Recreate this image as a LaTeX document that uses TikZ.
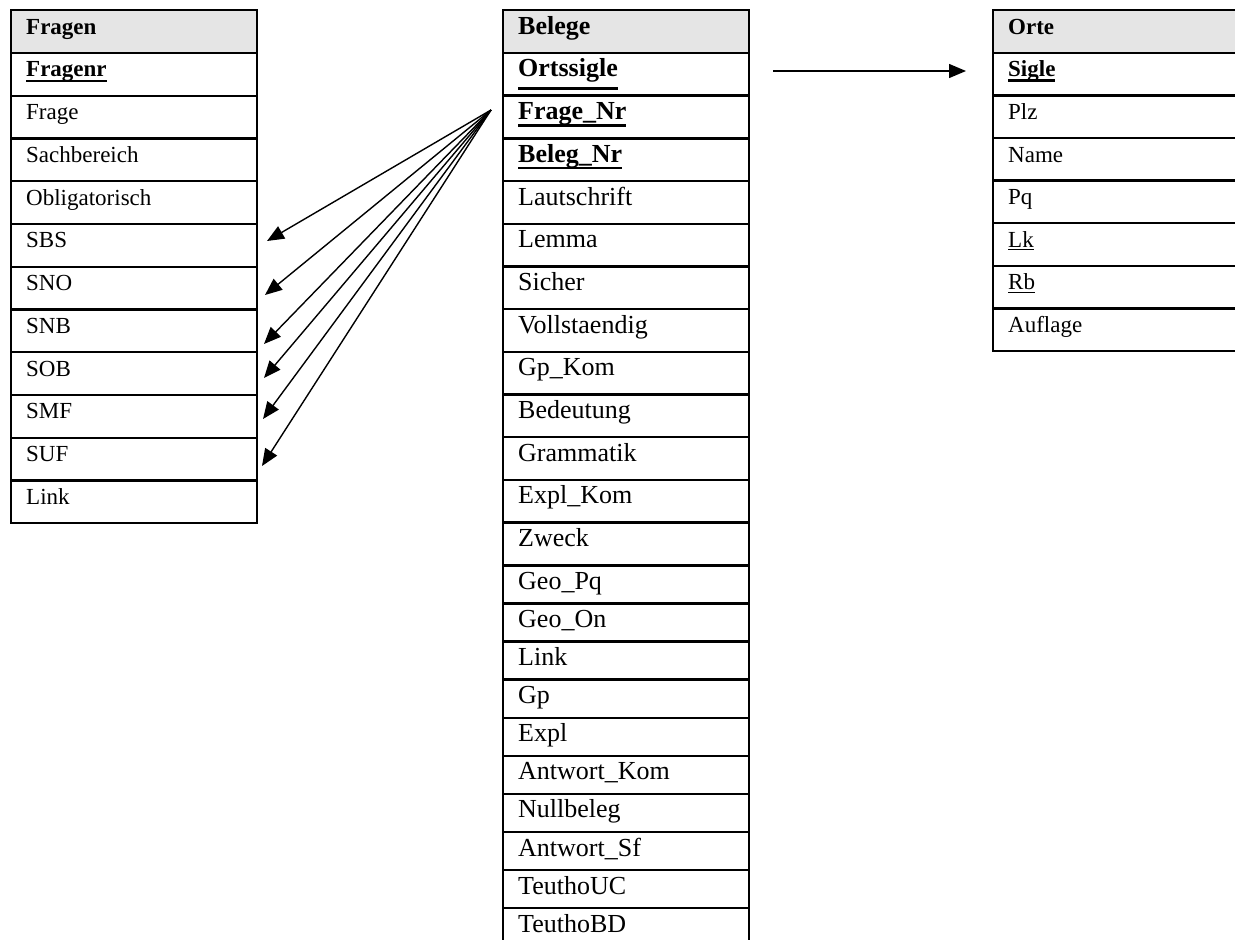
\documentclass[tikz,border=0pt]{standalone}
\usepackage{fontspec}
\setmainfont{Liberation Serif}
\usetikzlibrary{arrows.meta}

\definecolor{headgray}{HTML}{E5E5E5}

% underlined primary key (bold) and underlined plain field
\newcommand\keyfield[2][7pt]{\setbox0\hbox{\bfseries #2}\rlap{\rule[-#1]{\wd0}{2.5pt}}\box0}
\newcommand\reffield[1]{\setbox0\hbox{#1}\rlap{\rule[-3pt]{\wd0}{1.3pt}}\box0}

\tikzset{
  cell/.style={draw=black, line width=2.4pt, anchor=north west,
    inner xsep=15pt, inner ysep=0pt, text width=216pt, align=left,
    text height=24pt},
  smallcell/.style={cell, font=\fontsize{23}{26}\selectfont},
  bigcell/.style={cell, font=\fontsize{26}{30}\selectfont},
  headcell/.style={fill=headgray, font=\fontsize{23}{26}\selectfont\bfseries},
  bighead/.style={fill=headgray, font=\fontsize{26}{30}\selectfont\bfseries},
  link/.style={line width=1.4pt, -{Triangle[length=17pt,width=14pt]}},
}

\begin{document}
\begin{tikzpicture}[x=1pt,y=-1pt]
\clip (0,0) rectangle (1235,940);
\fill[white] (0,0) rectangle (1235,940);

% ---------------- table Fragen ----------------
\node[smallcell, headcell, text depth=18.75pt] (fh) at (10,9) {Fragen};
\node[smallcell, text depth=18.75pt] (fk) at (10,51.75) {\keyfield[5.5pt]{Fragenr}};
\foreach \txt [count=\k from 0] in {Frage, Sachbereich, Obligatorisch, SBS, SNO, SNB, SOB, SMF, SUF, Link}
  \node[smallcell, text depth=18.75pt] (f\k) at (10, 94.5+42.75*\k) {\txt};

% ---------------- table Belege ----------------
\node[bigcell, bighead, text depth=18.7pt] (bh) at (502,9) {Belege};
\node[bigcell, text depth=18.7pt] (bk1) at (502,51.7) {\keyfield[13pt]{Ortssigle}};
\node[bigcell, text depth=18.7pt] (bk2) at (502,94.4) {\keyfield{Frage\_Nr}};
\node[bigcell, text depth=18.7pt] (bk3) at (502,137.1) {\keyfield{Beleg\_Nr}};
\foreach \txt [count=\k from 0] in {Lautschrift, Lemma, Sicher, Vollstaendig, Gp\_Kom, Bedeutung, Grammatik, Expl\_Kom, Zweck}
  \node[bigcell, text depth=18.7pt] (b\k) at (502, 179.8+42.7*\k) {\txt};
\foreach \txt [count=\k from 0] in {Geo\_Pq, Geo\_On, Link, Gp, Expl, Antwort\_Kom, Nullbeleg, Antwort\_Sf, TeuthoUC}
  \node[bigcell, text depth=14.1pt] (c\k) at (502, 564.1+38.1*\k) {\txt};
\node[bigcell, text depth=16pt] (cz) at (502,907) {TeuthoBD};

% ---------------- table Orte ----------------
\node[smallcell, headcell, text depth=18.6pt] (oh) at (992,9) {Orte};
\node[smallcell, text depth=18.6pt] (ok) at (992,51.6) {\keyfield[5pt]{Sigle}};
\foreach \txt [count=\k from 0] in {Plz, Name, Pq, \reffield{Lk}, \reffield{Rb}, Auflage}
  \node[smallcell, text depth=18.6pt] (o\k) at (992, 94.2+42.6*\k) {\txt};

% ---------------- references ----------------
\coordinate (fkSrc) at (491,110);
\coordinate (inSBS) at (267,241);
\coordinate (inSNO) at (265,295);
\coordinate (inSNB) at (264,344);
\coordinate (inSOB) at (264,378);
\coordinate (inSMF) at (263,419);
\coordinate (inSUF) at (262,466);
\foreach \t in {SBS, SNO, SNB, SOB, SMF, SUF}
  \draw[link] (fkSrc) -- (in\t);

\coordinate (ortSrc) at (773,71);
\coordinate (ortDst) at (966,71);
\draw[link] (ortSrc) -- (ortDst);
\end{tikzpicture}
\end{document}
